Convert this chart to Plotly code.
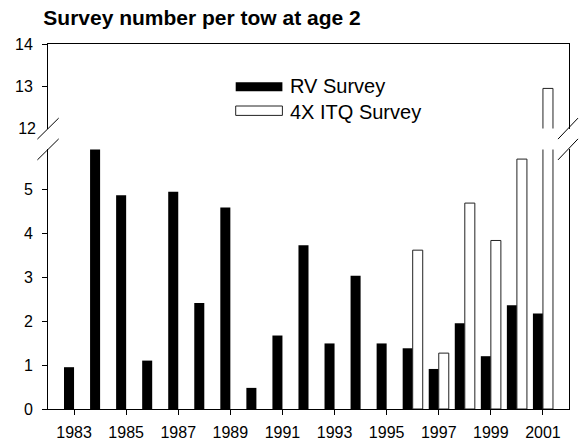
import plotly.graph_objects as go

# Survey number per tow at age 2, by survey year
years = list(range(1983, 2002))
rv_survey = [0.95, 7.0, 4.86, 1.10, 4.94, 2.41, 4.58, 0.48, 1.67, 3.72,
             1.49, 3.03, 1.49, 1.38, 0.91, 1.95, 1.20, 2.36, 2.17]
itq_survey = [None] * 13 + [3.61, 1.27, 4.68, 3.83, 5.68, 12.95]

x_ticks = list(range(1983, 2002, 2))
lower_ticks = [0, 1, 2, 3, 4, 5]
upper_ticks = [13, 14]
break_tick = [12]

# Figure geometry (pixels)
W, H = 579, 442
L, R, T, B = 48.3, 9.7, 44.3, 32.7
PW, PH = W - L - R, H - T - B


def px_x(x):
    return (x - L) / PW


def px_y(y):
    return (H - B - y) / PH


LOW_TOP = px_y(149.7)   # top of the lower (0-5.9) segment
UP_BOT = px_y(128.9)    # bottom of the upper (12-14) segment

FONT = "Liberation Sans, Arial, sans-serif"
BAR_W = 0.385

fig = go.Figure()
for xa, ya in (("x", "y"), ("x2", "y2")):
    fig.add_trace(go.Bar(
        x=years, y=rv_survey, name="RV Survey", width=BAR_W, offset=-BAR_W,
        marker=dict(color="black", line=dict(width=0)),
        xaxis=xa, yaxis=ya, showlegend=False))
    fig.add_trace(go.Bar(
        x=years, y=itq_survey, name="4X ITQ Survey", width=BAR_W, offset=0,
        marker=dict(color="white", line=dict(color="#222", width=1)),
        xaxis=xa, yaxis=ya, showlegend=False))

# empty trace so the tick-less "12" axis at the break gets drawn
fig.add_trace(go.Scatter(x=[None], y=[None], xaxis="x2", yaxis="y3",
                         mode="markers", showlegend=False, hoverinfo="skip"))

axis_common = dict(showgrid=False, zeroline=False, showline=True,
                   automargin=False,
                   linecolor="black", linewidth=1, tickcolor="black",
                   tickfont=dict(family=FONT, size=16, color="black"))

fig.update_layout(
    template="none",
    width=W, height=H,
    margin=dict(l=L, r=R, t=T, b=B, autoexpand=False),
    paper_bgcolor="white", plot_bgcolor="white",
    barmode="overlay",
    showlegend=False,
    title=dict(text="Survey number per tow at age 2",
               font=dict(family=FONT, size=21, color="black", weight="bold"),
               x=43.3 / W, xref="container", xanchor="left",
               y=1 - 18 / H, yref="container", yanchor="middle"),
    xaxis=dict(domain=[0, 1], range=[1982, 2002], anchor="y",
               tickvals=x_ticks, ticks="outside", ticklen=5,
               ticklabelstandoff=4, **axis_common),
    xaxis2=dict(matches="x", range=[1982, 2002], anchor="y2", side="top",
                showticklabels=False, ticks="", showgrid=False, zeroline=False,
                automargin=False,
                showline=True, linecolor="black", linewidth=1),
    yaxis=dict(domain=[0, LOW_TOP], range=[0, 5.9], anchor="x",
               tickvals=lower_ticks, ticks="outside", ticklen=5, mirror=True,
               ticklabelstandoff=6, **axis_common),
    yaxis2=dict(domain=[UP_BOT, 1], range=[12, 14], anchor="x2",
                tickvals=upper_ticks, ticks="outside", ticklen=5, mirror=True,
                ticklabelstandoff=6, **axis_common),
    yaxis3=dict(overlaying="y2", range=[12, 14], anchor="x2", side="left",
                tickvals=break_tick, ticks="", showgrid=False, zeroline=False,
                showline=False, ticklabelstandoff=11, automargin=False,
                tickfont=dict(family=FONT, size=16, color="black")),
)

# Axis-break slashes on both sides
shapes = []
for cy in (128.9, 149.7):
    for x0, x1 in ((37.7, 59.0), (558.3, 578.3)):
        shapes.append(dict(type="line", xref="paper", yref="paper",
                           x0=px_x(x0), x1=px_x(x1),
                           y0=px_y(cy + 10.5), y1=px_y(cy - 10.5),
                           line=dict(color="black", width=1)))

# Legend swatches
shapes.append(dict(type="rect", xref="paper", yref="paper",
                   x0=px_x(236), x1=px_x(282.7), y0=px_y(91.5), y1=px_y(82.5),
                   fillcolor="black", line=dict(width=0)))
shapes.append(dict(type="rect", xref="paper", yref="paper",
                   x0=px_x(236), x1=px_x(282.7), y0=px_y(115.7), y1=px_y(106.3),
                   fillcolor="white", line=dict(color="#222", width=1)))
fig.update_layout(shapes=shapes)

for label, cy in (("RV Survey", 86.7), ("4X ITQ Survey", 112.0)):
    fig.add_annotation(text=label, xref="paper", yref="paper",
                       x=px_x(288), y=px_y(cy), xanchor="left", yanchor="middle",
                       showarrow=False,
                       font=dict(family=FONT, size=20, color="black"))

fig.write_html("out.html")
